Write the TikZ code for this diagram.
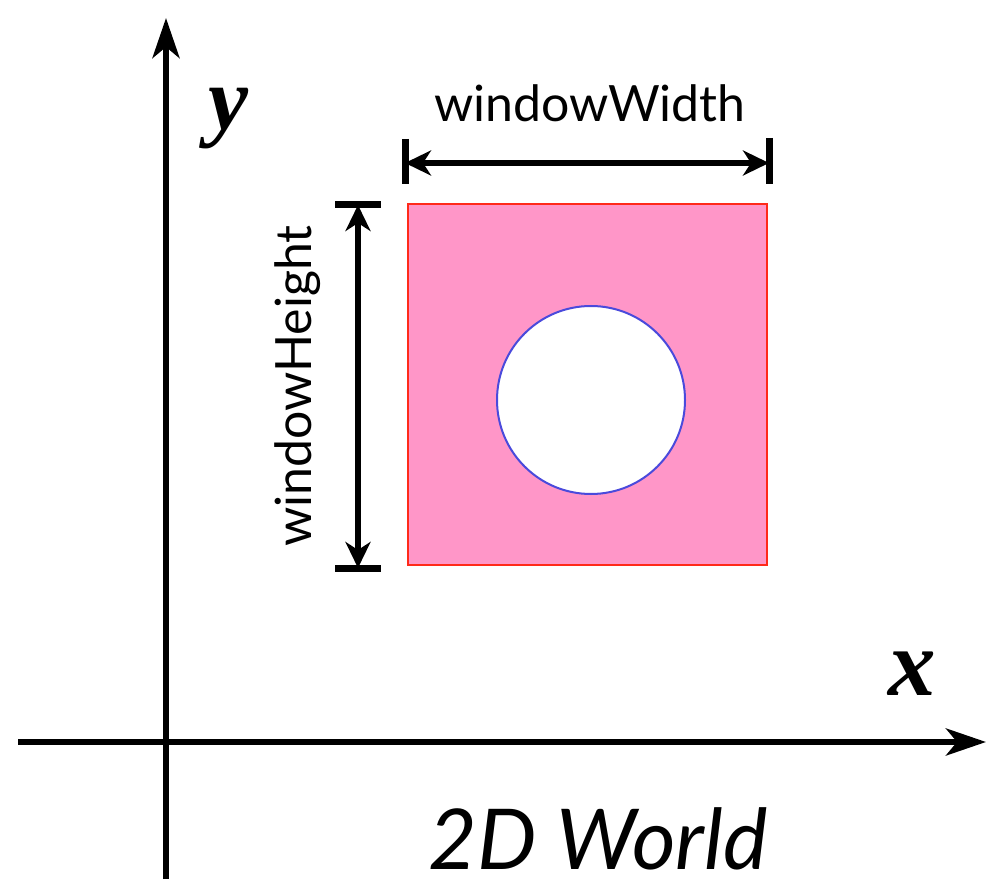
\documentclass[tikz,border=0pt]{standalone}
\usepackage{fontspec}
\setmainfont{Lato}
\newfontfamily\timesf{Liberation Serif}
\usetikzlibrary{arrows.meta}
\definecolor{winpink}{HTML}{FF96C8}
\definecolor{winred}{HTML}{FF2A1A}
\definecolor{circblue}{HTML}{4A4ADC}
\tikzset{
  axis/.style={line width=6pt,-{Stealth[length=40pt,width=27pt,inset=11pt]}},
  dimline/.style={line width=6pt,{Stealth[length=26pt,width=25pt,inset=8pt]}-{Stealth[length=26pt,width=25pt,inset=8pt]}},
  bar/.style={line width=7pt},
  lbl/.style={inner sep=0pt}
}
\begin{document}
\begin{tikzpicture}[x=1pt,y=1pt]
\useasboundingbox (0,0) rectangle (987,879);
% axes
\coordinate (yb) at (166,0);
\coordinate (yt) at (166,861);
\coordinate (xl) at (18,137);
\coordinate (xr) at (986,137);
\draw[axis] (yb) -- (yt);
\draw[axis] (xl) -- (xr);
% window
\node[draw=winred, line width=2pt, fill=winpink, minimum width=359pt, minimum height=361pt, inner sep=0pt, anchor=south west] (win) at (407,313) {};
\node[draw=circblue, line width=2pt, fill=white, ellipse/.style={}, circle, minimum size=188pt, inner sep=0pt] (hole) at (591,479) {};
% width dimension
\coordinate (wl) at (405,716);
\coordinate (wr) at (769,716);
\coordinate (wlt) at (405,740);
\coordinate (wlb) at (405,695);
\coordinate (wrt) at (769,741);
\coordinate (wrb) at (769,695);
\draw[bar] (wlt) -- (wlb);
\draw[bar] (wrt) -- (wrb);
\draw[dimline] (wl) -- (wr);
\node[lbl, font=\fontsize{50}{60}\selectfont] (wtext) at (590,776) {windowWidth};
% height dimension
\coordinate (ht) at (358,674);
\coordinate (hb) at (358,311);
\coordinate (htl) at (335,674);
\coordinate (htr) at (381,674);
\coordinate (hbl) at (335,311);
\coordinate (hbr) at (381,311);
\draw[bar] (htl) -- (htr);
\draw[bar] (hbl) -- (hbr);
\draw[dimline] (ht) -- (hb);
\node[lbl, rotate=90, font=\fontsize{50}{60}\selectfont] (htext) at (298,493) {windowHeight};
% axis labels
\node[lbl, font=\timesf\fontsize{90}{100}\selectfont\bfseries\itshape] (ylab) at (228,760) {y};
\node[lbl, font=\timesf\fontsize{95}{100}\selectfont\bfseries\itshape] (xlab) at (912,205) {x};
\node[lbl, font=\fontsize{84}{100}\selectfont\itshape] (title) at (598,40) {2D World};
\end{tikzpicture}
\end{document}
